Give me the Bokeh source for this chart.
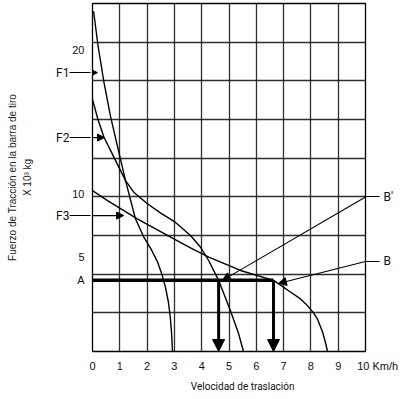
from bokeh.plotting import figure
from bokeh.models import Range1d, FixedTicker, LinearAxis, Arrow, NormalHead
from bokeh.embed import file_html
from bokeh.resources import INLINE

# ---------------- data ----------------
f1_speed = [0.04, 0.20, 0.42, 0.66, 0.95, 1.21, 1.57, 1.88, 2.15, 2.38, 2.55, 2.68, 2.78, 2.85, 2.90, 2.93]
f1_force = [22.0, 19.8, 17.4, 15.2, 13.0, 11.05, 8.6, 7.39, 6.6, 5.8, 4.95, 4.1, 3.2, 2.2, 1.1, 0.0]

f2_speed = [0.0, 0.20, 0.42, 0.66, 1.21, 1.51, 2.0, 2.5, 3.0, 3.59, 3.96, 4.25, 4.62, 5.05, 5.35, 5.53]
f2_force = [16.3, 15.0, 13.85, 13.0, 11.05, 10.3, 9.57, 8.95, 8.4, 7.5, 6.74, 5.9, 4.60, 2.65, 1.16, 0.0]

f3_speed = [0.0, 0.55, 1.64, 2.98, 3.59, 4.26, 5.42, 6.63, 6.78, 7.25, 7.62, 7.88, 8.10, 8.24, 8.42, 8.53, 8.61]
f3_force = [10.4, 9.76, 8.58, 7.28, 6.7, 6.10, 5.24, 4.60, 4.42, 3.85, 3.40, 2.95, 2.50, 2.10, 1.30, 0.60, 0.0]

level_A = 4.6                 # traction force level "A"
speed_at_A = [4.62, 6.63]     # speeds where level A meets F2 and F3

x_ticks = [0, 1, 2, 3, 4, 5, 6, 7, 8, 9, 10]
x_tick_labels = ["0", "1", "2", "3", "4", "5", "6", "7", "8", "9", "10 Km/h"]
y_tick_pos = [4.6, 6.1, 10.2, 19.5]
y_tick_labels = ["A", "5", "10", "20"]
grid_x = [0, 1, 2, 3, 4, 5, 6, 7, 8, 9, 10]
grid_y = [0, 2.5, 5, 7.5, 10, 12.5, 15, 17.5, 20, 22.5]

curve_names = ["F1", "F2", "F3"]
curve_ptr_y = [18.03, 13.83, 8.79]
curve_ptr_tip = [0.18, 0.44, 1.14]

point_names = ["B'", "B"]
point_ptr_edge_y = [9.99, 5.82]          # where the pointers leave the grid (x = 10)
point_ptr_tip = [(4.76, 4.60), (6.81, 4.40)]

NBSP = "\u00a0"
LAB_FONT = "Roboto"
SANS = "Liberation Sans"
INK = "#111111"

# ---------------- figure ----------------
p = figure(width=400, height=399, x_range=Range1d(0, 10), y_range=Range1d(0, 22.5),
           output_backend="svg", toolbar_location=None,
           min_border_left=92, min_border_right=35, min_border_top=3, min_border_bottom=48)
p.background_fill_color = "white"
p.border_fill_color = "white"
p.outline_line_color = "black"
p.outline_line_width = 1.3

# grid
p.xgrid.ticker = FixedTicker(ticks=grid_x)
p.ygrid.ticker = FixedTicker(ticks=grid_y)
for g in (p.xgrid, p.ygrid):
    g.grid_line_color = "#1a1a1a"
    g.grid_line_width = 1.3
    g.grid_line_alpha = 0.9


def plain(ax):
    ax.axis_line_color = None
    ax.major_tick_line_color = None
    ax.minor_tick_line_color = None
    ax.major_tick_in = 0
    ax.major_tick_out = 0
    ax.minor_tick_in = 0
    ax.minor_tick_out = 0


# x axis
xa = p.xaxis[0]
plain(xa)
xa.ticker = FixedTicker(ticks=x_ticks)
overrides = {v: t for v, t in zip(x_ticks, x_tick_labels)}
# keep "10" centred on its tick, "Km/h" hanging to the right
overrides[x_ticks[-1]] = NBSP * 8 + x_tick_labels[-1]
xa.major_label_overrides = overrides
xa.major_label_standoff = 8
xa.major_label_text_font = SANS
xa.major_label_text_font_size = "11px"
xa.major_label_text_color = INK
xa.axis_label = NBSP * 11 + "Velocidad de traslación"
xa.axis_label_standoff = 6
xa.axis_label_text_font = LAB_FONT
xa.axis_label_text_font_size = "10px"
xa.axis_label_text_font_style = "normal"
xa.axis_label_text_color = INK

# y axis: force tick labels
ya = p.yaxis[0]
plain(ya)
ya.ticker = FixedTicker(ticks=y_tick_pos)
ya.major_label_overrides = {v: t for v, t in zip(y_tick_pos, y_tick_labels)}
ya.major_label_standoff = 8
ya.major_label_text_font = SANS
ya.major_label_text_font_size = "11px"
ya.major_label_text_color = INK

# curve names with pointer tails, and the unit line
fa = LinearAxis(ticker=FixedTicker(ticks=curve_ptr_y),
                major_label_overrides={v: t for v, t in zip(curve_ptr_y, curve_names)},
                axis_line_color=None, minor_tick_line_color=None,
                major_tick_line_color="black", major_tick_line_width=1.2,
                major_tick_in=21, major_tick_out=0, minor_tick_in=0, minor_tick_out=0,
                major_label_standoff=0, major_label_text_font=LAB_FONT,
                major_label_text_font_size="12px", major_label_text_color=INK,
                axis_label="X 10³ kg", axis_label_standoff=20,
                axis_label_text_font=SANS, axis_label_text_font_size="10px",
                axis_label_text_font_style="normal", axis_label_text_color="#222222")
p.add_layout(fa, "left")

# outer y title
ta = LinearAxis(ticker=FixedTicker(ticks=[]), axis_label="Fuerzo de Tracción en la barra de tiro",
                axis_line_color=None, major_tick_line_color=None, minor_tick_line_color=None,
                major_tick_in=0, major_tick_out=0, minor_tick_in=0, minor_tick_out=0,
                major_label_text_font_size="0px", major_label_standoff=0, axis_label_standoff=2,
                axis_label_text_font=SANS, axis_label_text_font_size="10px",
                axis_label_text_font_style="normal", axis_label_text_color="#222222")
p.add_layout(ta, "left")

# operating point names on the right with pointer tails
ra = LinearAxis(ticker=FixedTicker(ticks=point_ptr_edge_y),
                major_label_overrides={v: t for v, t in zip(point_ptr_edge_y, point_names)},
                axis_line_color=None, minor_tick_line_color=None,
                major_tick_line_color="black", major_tick_line_width=1.1,
                major_tick_in=0, major_tick_out=14, minor_tick_in=0, minor_tick_out=0,
                major_label_standoff=4, major_label_text_font=LAB_FONT,
                major_label_text_font_size="12px", major_label_text_color=INK)
p.add_layout(ra, "right")

# curves
for xs, ys in ((f1_speed, f1_force), (f2_speed, f2_force), (f3_speed, f3_force)):
    p.line(xs, ys, line_color="black", line_width=1.4)

# level A and the two speed arrows
p.line([0, speed_at_A[1]], [level_A, level_A], line_color="black", line_width=3.5)
for sx in speed_at_A:
    p.add_layout(Arrow(x_start=sx, y_start=level_A, x_end=sx, y_end=0,
                       line_color="black", line_width=3,
                       end=NormalHead(size=12, fill_color="black", line_color="black")))

# pointers to the curves (inside the grid)
for yv, x1 in zip(curve_ptr_y, curve_ptr_tip):
    p.add_layout(Arrow(x_start=0, y_start=yv, x_end=x1, y_end=yv,
                       line_color="black", line_width=1.2,
                       end=NormalHead(size=7, fill_color="black", line_color="black")))

# pointers to the operating points (inside the grid)
for ey, tip in zip(point_ptr_edge_y, point_ptr_tip):
    p.add_layout(Arrow(x_start=x_ticks[-1], y_start=ey, x_end=tip[0], y_end=tip[1],
                       line_color="black", line_width=1.1,
                       end=NormalHead(size=8, fill_color="black", line_color="black")))

open("out.html", "w").write(file_html(p, INLINE))
